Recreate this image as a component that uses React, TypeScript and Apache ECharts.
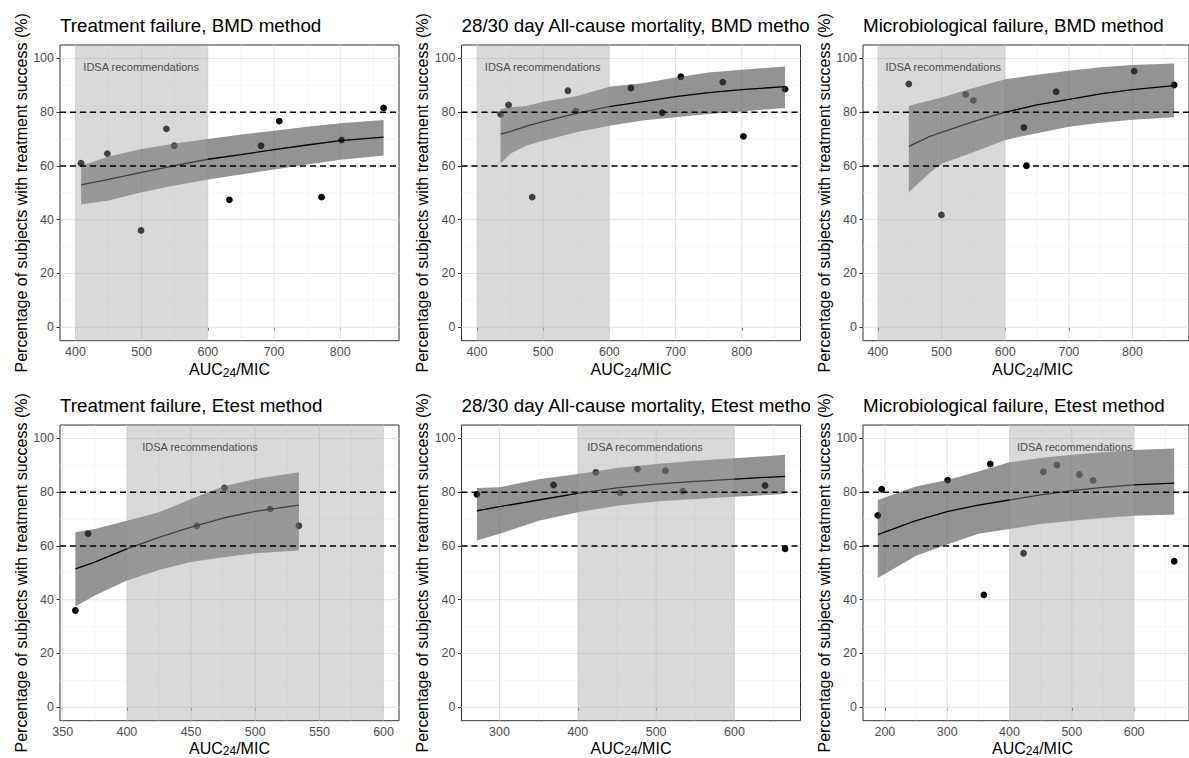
import React, { useEffect, useRef } from "react";
import * as echarts from "echarts";

const FONT = '"Liberation Sans", Arial, Helvetica, sans-serif';

// ---------- text ----------
const panelTitles = [
  "Treatment failure, BMD method",
  "28/30 day All-cause mortality, BMD method",
  "Microbiological failure, BMD method",
  "Treatment failure, Etest method",
  "28/30 day All-cause mortality, Etest method",
  "Microbiological failure, Etest method",
];
const yTitle = "Percentage of subjects with treatment success (%)";
const xTitleMain = "AUC";
const xTitleSub = "24";
const xTitleEnd = "/MIC";
const idsaLabel = "IDSA recommendations";

// ---------- shared scales ----------
const yMin = -5;
const yMax = 105;
const yMajor = [0, 20, 40, 60, 80, 100];
const yMinor = [10, 30, 50, 70, 90];
const refLines = [60, 80];
const idsaRange = [400, 600];
const idsaLabelX = 412;
const idsaLabelY = 97;

const xMajorBMD = [400, 500, 600, 700, 800];
const xMinorBMD = [450, 550, 650, 750, 850];
const xMajorTxEtest = [350, 400, 450, 500, 550, 600];
const xMinorTxEtest = [375, 425, 475, 525, 575];
const xMajorMortEtest = [300, 400, 500, 600];
const xMinorMortEtest = [350, 450, 550, 650];
const xMajorMicroEtest = [200, 300, 400, 500, 600];
const xMinorMicroEtest = [250, 350, 450, 550, 650];

// ---------- panel 1: Treatment failure, BMD ----------
const p1PointX = [408.6, 448.3, 499.1, 537.4, 549.4, 632.5, 680.3, 707.9, 771.8, 802.0, 865.4];
const p1PointY = [61.0, 64.6, 36.0, 73.8, 67.5, 47.4, 67.5, 76.7, 48.4, 69.6, 81.6];
const p1FitX = [408.6, 450, 500, 550, 600, 650, 700, 750, 800, 865.4];
const p1Fit = [53.0, 55.0, 57.6, 60.1, 62.5, 64.2, 66.1, 67.8, 69.4, 70.7];
const p1Upper = [60.1, 63.5, 66.3, 68.4, 70.0, 71.7, 73.1, 74.6, 75.9, 77.1];
const p1Lower = [45.7, 47.2, 50.2, 52.7, 55.0, 56.8, 58.7, 60.5, 62.3, 63.9];

// ---------- panel 2: Mortality, BMD ----------
const p2PointX = [435.7, 447.8, 483.5, 537.4, 549.4, 632.5, 679.7, 707.9, 771.3, 802.5, 865.4];
const p2PointY = [79.2, 82.7, 48.4, 88.0, 80.4, 89.0, 79.8, 93.2, 91.2, 71.0, 88.6];
const p2FitX = [435.7, 450, 475, 500, 550, 600, 650, 700, 750, 800, 865.4];
const p2Fit = [71.8, 72.8, 74.8, 76.5, 79.6, 82.1, 83.9, 85.8, 87.3, 88.4, 89.5];
const p2Upper = [81.2, 81.8, 82.3, 83.9, 85.9, 89.5, 90.8, 92.9, 94.8, 95.8, 97.0];
const p2Lower = [60.8, 64.5, 67.6, 69.4, 72.5, 75.0, 76.9, 78.1, 79.3, 80.3, 81.6];

// ---------- panel 3: Microbiological failure, BMD ----------
const p3PointX = [448.7, 499.9, 538.0, 550.0, 629.4, 633.4, 680.1, 802.6, 865.4];
const p3PointY = [90.5, 41.8, 86.6, 84.4, 74.3, 60.1, 87.6, 95.3, 90.1];
const p3FitX = [448.7, 480, 500, 550, 600, 650, 700, 750, 800, 865.4];
const p3Fit = [67.3, 70.8, 72.5, 76.5, 80.0, 82.7, 84.8, 86.8, 88.4, 89.9];
const p3Upper = [82.4, 84.3, 85.5, 89.0, 92.3, 93.9, 95.4, 96.7, 97.6, 98.1];
const p3Lower = [50.2, 57.1, 60.8, 65.1, 69.7, 72.2, 74.6, 76.1, 77.2, 78.1];

// ---------- panel 4: Treatment failure, Etest ----------
const p4PointX = [359.9, 369.8, 454.5, 476.0, 511.6, 534.0];
const p4PointY = [36.0, 64.6, 67.5, 81.6, 73.8, 67.5];
const p4FitX = [359.9, 375, 400, 425, 450, 475, 500, 534.0];
const p4Fit = [51.5, 54.0, 58.9, 63.2, 67.0, 70.4, 72.9, 75.2];
const p4Upper = [65.1, 66.3, 69.4, 72.5, 77.5, 82.1, 84.9, 87.4];
const p4Lower = [37.5, 41.6, 47.2, 51.1, 54.0, 55.8, 57.3, 58.3];

// ---------- panel 5: Mortality, Etest ----------
const p5PointX = [271.1, 368.9, 423.0, 454.0, 476.2, 511.9, 534.0, 639.1, 664.7];
const p5PointY = [79.2, 82.7, 87.4, 79.8, 88.6, 88.0, 80.4, 82.5, 58.9];
const p5FitX = [271.1, 300, 350, 400, 450, 500, 550, 600, 664.7];
const p5Fit = [73.1, 74.6, 77.1, 79.6, 81.6, 83.0, 84.0, 84.9, 85.9];
const p5Upper = [81.6, 81.8, 84.8, 86.8, 89.0, 90.5, 91.7, 92.6, 93.9];
const p5Lower = [62.0, 64.5, 69.4, 72.5, 75.0, 76.5, 77.5, 78.3, 79.3];

// ---------- panel 6: Microbiological failure, Etest ----------
const p6PointX = [188.7, 194.9, 300.8, 358.9, 369.2, 422.6, 454.5, 476.1, 512.1, 534.2, 664.3];
const p6PointY = [71.4, 81.1, 84.5, 41.8, 90.5, 57.3, 87.6, 90.1, 86.6, 84.4, 54.3];
const p6FitX = [188.7, 250, 300, 350, 400, 450, 500, 550, 600, 664.3];
const p6Fit = [64.2, 69.4, 72.8, 75.2, 77.1, 79.0, 80.6, 81.8, 82.7, 83.4];
const p6Upper = [77.1, 82.1, 84.5, 87.7, 91.1, 92.7, 93.9, 94.9, 95.7, 96.3];
const p6Lower = [48.1, 56.4, 60.5, 64.5, 66.3, 68.2, 69.4, 70.4, 71.2, 71.7];

const panels = [
  { px: p1PointX, py: p1PointY, fx: p1FitX, fy: p1Fit, hi: p1Upper, lo: p1Lower, major: xMajorBMD, minor: xMinorBMD },
  { px: p2PointX, py: p2PointY, fx: p2FitX, fy: p2Fit, hi: p2Upper, lo: p2Lower, major: xMajorBMD, minor: xMinorBMD },
  { px: p3PointX, py: p3PointY, fx: p3FitX, fy: p3Fit, hi: p3Upper, lo: p3Lower, major: xMajorBMD, minor: xMinorBMD },
  { px: p4PointX, py: p4PointY, fx: p4FitX, fy: p4Fit, hi: p4Upper, lo: p4Lower, major: xMajorTxEtest, minor: xMinorTxEtest },
  { px: p5PointX, py: p5PointY, fx: p5FitX, fy: p5Fit, hi: p5Upper, lo: p5Lower, major: xMajorMortEtest, minor: xMinorMortEtest },
  { px: p6PointX, py: p6PointY, fx: p6FitX, fy: p6Fit, hi: p6Upper, lo: p6Lower, major: xMajorMicroEtest, minor: xMinorMicroEtest },
];

// ---------- layout ----------
const COL_LEFT = [60, 461.5, 863];
const ROW_TOP = [45, 425];
const PANEL_W = 339;
const PANEL_H = 295.7;
const XTITLE_GAP = [29, 27.5];

function xExtent(p: any) {
  const lo = Math.min(Math.min(...p.px), Math.min(...p.fx), idsaRange[0]);
  const hi = Math.max(Math.max(...p.px), Math.max(...p.fx), idsaRange[1]);
  const pad = (hi - lo) * 0.05;
  return [lo - pad, hi + pad];
}

function buildOption() {
  const grids: any[] = [];
  const xAxes: any[] = [];
  const yAxes: any[] = [];
  const series: any[] = [];
  const graphics: any[] = [];

  panels.forEach((p, i) => {
    const col = i % 3;
    const row = Math.floor(i / 3);
    const left = COL_LEFT[col];
    const top = ROW_TOP[row];
    const [xmin, xmax] = xExtent(p);

    grids.push({
      left,
      top,
      width: PANEL_W,
      height: PANEL_H,
      show: true,
      backgroundColor: "#ffffff",
      borderColor: "#333333",
      borderWidth: 1,
      containLabel: false,
    });
    xAxes.push({
      type: "value",
      gridIndex: i,
      min: xmin,
      max: xmax,
      axisLine: { show: false },
      splitLine: { show: false },
      axisTick: { show: true, customValues: p.major, length: 3.5, lineStyle: { color: "#333333", width: 1 } },
      axisLabel: { customValues: p.major, color: "#4d4d4d", fontSize: 12.5, fontFamily: FONT, margin: 5 },
    });
    yAxes.push({
      type: "value",
      gridIndex: i,
      min: yMin,
      max: yMax,
      axisLine: { show: false },
      splitLine: { show: false },
      axisTick: { show: true, customValues: yMajor, length: 3.5, lineStyle: { color: "#333333", width: 1 } },
      axisLabel: { customValues: yMajor, color: "#4d4d4d", fontSize: 12.5, fontFamily: FONT, margin: 6 },
    });

    // grid lines
    const gl: any[] = [];
    p.major.forEach((v: number) => gl.push([v, 0]));
    p.minor.forEach((v: number) => gl.push([v, 1]));
    yMajor.forEach((v) => gl.push([v, 2]));
    yMinor.forEach((v) => gl.push([v, 3]));
    series.push({
      type: "custom",
      xAxisIndex: i,
      yAxisIndex: i,
      z: 1,
      silent: true,
      clip: true,
      data: gl,
      renderItem: (params: any, api: any) => {
        const cs = params.coordSys;
        const v = api.value(0);
        const kind = api.value(1);
        const major = kind === 0 || kind === 2;
        const style = { stroke: major ? "#e4e4e4" : "#f1f1f1", lineWidth: major ? 1 : 0.6 };
        if (kind < 2) {
          const x = api.coord([v, 50])[0];
          return { type: "line", shape: { x1: x, y1: cs.y, x2: x, y2: cs.y + cs.height }, style };
        }
        const y = api.coord([xmin, v])[1];
        return { type: "line", shape: { x1: cs.x, y1: y, x2: cs.x + cs.width, y2: y }, style };
      },
    });

    // points
    series.push({
      type: "scatter",
      xAxisIndex: i,
      yAxisIndex: i,
      z: 2,
      silent: true,
      symbol: "circle",
      symbolSize: 6.8,
      itemStyle: { color: "#000000", opacity: 1 },
      data: p.px.map((x: number, k: number) => [x, p.py[k]]),
    });

    // confidence ribbon
    const ribbon = p.fx.map((x: number, k: number) => [x, p.lo[k], p.hi[k]]);
    series.push({
      type: "custom",
      xAxisIndex: i,
      yAxisIndex: i,
      z: 3,
      silent: true,
      clip: true,
      data: ribbon,
      renderItem: (params: any, api: any) => {
        if (params.dataIndex !== 0) return null;
        const pts: number[][] = [];
        ribbon.forEach((d: number[]) => pts.push(api.coord([d[0], d[2]])));
        for (let k = ribbon.length - 1; k >= 0; k--) pts.push(api.coord([ribbon[k][0], ribbon[k][1]]));
        return { type: "polygon", shape: { points: pts }, style: { fill: "rgba(75,75,75,0.6)" } };
      },
    });

    // fitted line
    series.push({
      type: "line",
      xAxisIndex: i,
      yAxisIndex: i,
      z: 4,
      silent: true,
      symbol: "none",
      smooth: false,
      lineStyle: { color: "#000000", width: 1.3 },
      data: p.fx.map((x: number, k: number) => [x, p.fy[k]]),
    });

    // IDSA shaded range + label
    series.push({
      type: "custom",
      xAxisIndex: i,
      yAxisIndex: i,
      z: 5,
      silent: true,
      clip: true,
      data: [[idsaRange[0], yMax, idsaRange[1], yMin]],
      renderItem: (params: any, api: any) => {
        const a = api.coord([api.value(0), api.value(1)]);
        const b = api.coord([api.value(2), api.value(3)]);
        const t = api.coord([idsaLabelX, idsaLabelY]);
        return {
          type: "group",
          children: [
            { type: "rect", shape: { x: a[0], y: a[1], width: b[0] - a[0], height: b[1] - a[1] }, style: { fill: "rgba(160,160,160,0.4)" } },
            {
              type: "text",
              x: t[0],
              y: t[1],
              style: { text: idsaLabel, fill: "#4d4d4d", fontSize: 11, fontFamily: FONT, align: "left", verticalAlign: "middle" },
            },
          ],
        };
      },
    });

    // dashed reference lines
    series.push({
      type: "custom",
      xAxisIndex: i,
      yAxisIndex: i,
      z: 6,
      silent: true,
      clip: true,
      data: refLines.map((v) => [xmin, v]),
      renderItem: (params: any, api: any) => {
        const cs = params.coordSys;
        const y = api.coord([api.value(0), api.value(1)])[1];
        return {
          type: "line",
          shape: { x1: cs.x, y1: y, x2: cs.x + cs.width, y2: y },
          style: { stroke: "#000000", lineWidth: 1.4, lineDash: [6, 4] },
        };
      },
    });

    // titles and axis titles
    graphics.push({
      type: "text",
      x: left,
      y: top - 20,
      z: col === 1 ? 10 : 30,
      style: { text: panelTitles[i], fontSize: 18.8, fill: "#000000", fontFamily: FONT, align: "left", verticalAlign: "middle" },
    });
    graphics.push({
      type: "text",
      x: left - 39,
      y: top + PANEL_H / 2,
      rotation: Math.PI / 2,
      z: 30,
      style: { text: yTitle, fontSize: 16, fill: "#000000", fontFamily: FONT, align: "center", verticalAlign: "middle" },
    });
    graphics.push({
      type: "text",
      x: left + PANEL_W / 2,
      y: top + PANEL_H + XTITLE_GAP[row],
      z: 30,
      style: {
        text: "{a|" + xTitleMain + "}{s|" + xTitleSub + "}{a|" + xTitleEnd + "}",
        align: "center",
        verticalAlign: "middle",
        rich: {
          a: { fontSize: 16, lineHeight: 18, fill: "#000000", fontFamily: FONT },
          s: { fontSize: 12, lineHeight: 12, fill: "#000000", fontFamily: FONT, verticalAlign: "bottom" },
        },
      },
    });
  });

  // covers the overflow of the middle-column titles, as the next plot's background does
  ROW_TOP.forEach((t) => {
    graphics.push({
      type: "rect",
      z: 20,
      shape: { x: 810, y: t - 45, width: 26, height: 41 },
      style: { fill: "#ffffff" },
    });
  });

  return {
    animation: false,
    backgroundColor: "#ffffff",
    grid: grids,
    xAxis: xAxes,
    yAxis: yAxes,
    series,
    graphic: { elements: graphics },
  };
}

export default function App() {
  const ref = useRef<HTMLDivElement>(null);
  useEffect(() => {
    if (!ref.current) return;
    const chart = echarts.init(ref.current, null, { renderer: "svg" });
    chart.setOption(buildOption() as any);
    return () => chart.dispose();
  }, []);
  return (
    <div
      ref={ref}
      style={{ position: "absolute", left: 0, top: 0, width: 1189, height: 758, background: "#fff" }}
    />
  );
}
